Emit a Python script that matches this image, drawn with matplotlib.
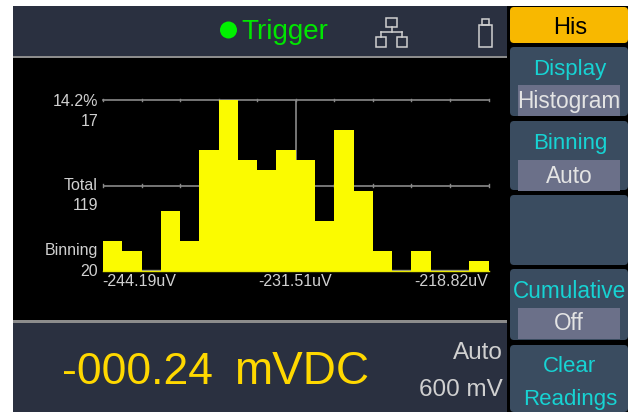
import numpy as np
import matplotlib
matplotlib.use('Agg')
import matplotlib.pyplot as plt
from matplotlib.patches import Rectangle, FancyBboxPatch, Circle

plt.rcParams['font.family'] = ['Liberation Sans', 'DejaVu Sans']

# Histogram data
counts = [3, 2, 0, 6, 3, 12, 17, 11, 10, 12, 11, 5, 14, 8, 2, 0, 2, 0, 0, 1]
x_labels = ["-244.19uV", "-231.51uV", "-218.82uV"]
x_values = [-244.19, -231.51, -218.82]
y_max = 17

buttons = [(7, 43), (47, 116), (121, 190), (195, 265), (269, 340), (345, 412)]

W, H = 635, 412
DARK = '#2a3040'
BTN = '#3a4c60'
BOX = '#6b7089'
CYAN = '#17d3d3'
GREY = '#8a8a8a'
LIGHT = '#d0d0d0'

fig = plt.figure(figsize=(W / 100, H / 100), dpi=100, facecolor='white')

# Whole picture in pixel coordinates for the instrument frame
bg = fig.add_axes([0, 0, 1, 1])
bg.set_xlim(0, W)
bg.set_ylim(H, 0)
bg.axis('off')

bg.add_patch(Rectangle((13, 6), 615, 406, fc='black', ec='none'))
bg.add_patch(Rectangle((13, 6), 494, 50, fc=DARK, ec='none'))
bg.add_patch(Rectangle((13, 56), 494, 2, fc='#8c8c8c', ec='none'))
bg.add_patch(Rectangle((13, 323), 494, 89, fc=DARK, ec='none'))
bg.add_patch(Rectangle((13, 320), 494, 3, fc='#8c8c8c', ec='none'))

# Status line
bg.add_patch(Circle((228.5, 30), 8.5, fc='#00f000', ec='none'))
bg.text(241, 32, "Trigger", color='#00e600', fontsize=20, va='center', ha='left')

# Network icon
for x, y, w, h in [(386, 17.5, 11, 9.5), (376, 37, 10, 9.5), (397, 37, 10, 9.5)]:
    bg.add_patch(Rectangle((x, y), w, h, fc='none', ec=LIGHT, lw=1.1))
bg.plot([391.5, 391.5], [27, 32], color=LIGHT, lw=1.1)
bg.plot([381, 402], [32, 32], color=LIGHT, lw=1.1)
bg.plot([381, 381], [32, 37], color=LIGHT, lw=1.1)
bg.plot([402, 402], [32, 37], color=LIGHT, lw=1.1)

# USB icon
bg.add_patch(Rectangle((479, 25), 13, 21.5, fc='none', ec=LIGHT, lw=1.1))
bg.add_patch(Rectangle((482, 19), 7, 6, fc='none', ec=LIGHT, lw=1.1))

# Side buttons
for i, (top, bottom) in enumerate(buttons):
    fc = '#f8b800' if i == 0 else BTN
    bg.add_patch(FancyBboxPatch((513, top + 3), 112, bottom - top - 6,
                                boxstyle='round,pad=3,rounding_size=4', fc=fc, ec='none'))

bg.text(570, 28, "His", color='black', fontsize=17, ha='center', va='center')
bg.text(570, 69, "Display", color=CYAN, fontsize=16, ha='center', va='center')
bg.text(570, 143, "Binning", color=CYAN, fontsize=16, ha='center', va='center')
bg.text(570, 292, "Cumulative", color=CYAN, fontsize=16.3, ha='center', va='center')
bg.text(570, 367, "Clear", color=CYAN, fontsize=16, ha='center', va='center')
bg.text(570, 400, "Readings", color=CYAN, fontsize=16, ha='center', va='center')

for top, label in [(85, "Histogram"), (160, "Auto"), (308, "Off")]:
    bg.add_patch(Rectangle((518, top), 102, 31, fc=BOX, ec='none'))
    bg.text(569, top + 16, label, color='#e4e4e4', fontsize=16.3, ha='center', va='center')

# Reading
bg.text(62, 372, "-000.24", color='#ffd800', fontsize=32, ha='left', va='center')
bg.text(234, 372, "mVDC", color='#ffd800', fontsize=33, ha='left', va='center')
bg.text(503, 353, "Auto", color=LIGHT, fontsize=17.5, ha='right', va='center')
bg.text(503, 390, "600 mV", color=LIGHT, fontsize=17.5, ha='right', va='center')

# Labels left of the histogram
for y, label in [(101, "14.2%"), (121, "17"), (185, "Total"), (205, "119"), (251, "Binning"), (271, "20")]:
    bg.text(98, y, label, color=LIGHT, fontsize=11.5, ha='right', va='center')

# Histogram
left, right, top, base = 103, 488.5, 100, 271
ax = fig.add_axes([left / W, 1 - base / H, (right - left) / W, (base - top) / H], facecolor='none')
edges = np.linspace(x_values[0], x_values[2], len(counts) + 1)
ax.set_xlim(edges[0], edges[-1])
ax.set_ylim(0, y_max)
for s in ax.spines.values():
    s.set_visible(False)
ax.set_xticks([])
ax.set_yticks([])

# Graticule
ax.axhline(y_max, color=GREY, lw=1.2, zorder=1, clip_on=False)
ax.axhline(y_max / 2, color=GREY, lw=1.2, zorder=1)
ax.axvline(x_values[1], color=GREY, lw=1.2, zorder=1)
ax.axhline(0.1, color=GREY, lw=1, zorder=1)
for x in np.linspace(edges[0], edges[-1], 11):
    for y in (y_max, y_max / 2):
        ax.plot([x, x], [y - 0.14, y + 0.14], color=GREY, lw=1, zorder=1, clip_on=False)

ax.bar(edges[:-1], counts, width=edges[1] - edges[0], align='edge', color='#fbfb00', lw=0, zorder=2)
ax.plot([edges[0], edges[-1]], [0, 0], color='#e8e800', lw=1, zorder=3, clip_on=False)

for x, label, ha, px in zip(x_values, x_labels, ['left', 'center', 'right'], [102, 295, 488]):
    bg.text(px, 282, label, color=LIGHT, fontsize=11.5, ha=ha, va='center')

fig.savefig('out.png', dpi=100)
